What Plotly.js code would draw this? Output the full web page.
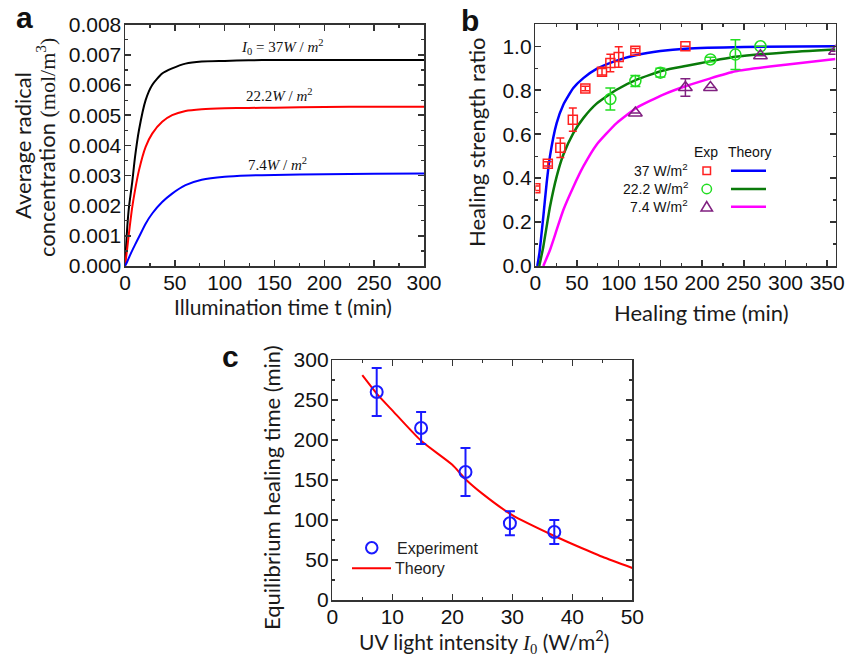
<!DOCTYPE html>
<html>
<head>
<meta charset="utf-8">
<script src="https://cdn.plot.ly/plotly-3.0.1.min.js"></script>
<style>html,body{margin:0;padding:0;background:#fff;}#chart{width:845px;height:657px;}</style>
</head>
<body>
<div id="chart"></div>
<script>
// ---------- Panel a: average radical concentration vs illumination time ----------
const tA = [0, 2.3, 4, 7.3, 10, 14, 20.7, 27.3, 37.3, 47.3, 60.7, 77, 100, 124, 150, 200, 250, 300];
const radical37 = [0, 0.0013, 0.00196, 0.0028, 0.0036, 0.0045, 0.0055, 0.0060, 0.00638, 0.00655, 0.00671, 0.00678, 0.0068, 0.00682, 0.00683, 0.00683, 0.00683, 0.00683];
const radical22 = [0, 0.0006, 0.0011, 0.00196, 0.0025, 0.00317, 0.00395, 0.00439, 0.00478, 0.005, 0.00514, 0.0052, 0.00523, 0.00524, 0.00525, 0.00527, 0.00528, 0.00528];
const radical7 = [0, 0.00015, 0.00028, 0.00052, 0.0007, 0.00096, 0.0014, 0.00174, 0.00212, 0.0024, 0.00268, 0.00286, 0.00296, 0.003, 0.00302, 0.00304, 0.00306, 0.00307];

// ---------- Panel b: healing strength ratio vs healing time ----------
const exp37T = [0, 15, 30, 45, 60, 80, 90, 100, 120, 180];
const exp37Y = [0.354, 0.465, 0.538, 0.666, 0.808, 0.884, 0.924, 0.951, 0.98, 1.0];
const exp37Err = [0.01, 0.01, 0.044, 0.053, 0.01, 0.015, 0.04, 0.047, 0.01, 0];
const exp22T = [90, 120, 150, 210, 240, 270];
const exp22Y = [0.76, 0.842, 0.88, 0.94, 0.962, 1.0];
const exp22Err = [0.05, 0.025, 0.02, 0.01, 0.068, 0];
const exp7T = [120, 180, 210, 270, 360];
const exp7Y = [0.696, 0.812, 0.812, 0.957, 0.977];
const exp7Err = [0, 0.04, 0, 0, 0];
const th37T = [2.4, 5, 9.6, 13.6, 17.6, 25.6, 33.6, 45.6, 57.6, 73.5, 97.5, 121.5, 150, 180, 250, 360];
const th37Y = [0, 0.06, 0.225, 0.377, 0.5, 0.65, 0.734, 0.81, 0.855, 0.897, 0.935, 0.96, 0.978, 0.989, 0.997, 1.0];
const th22T = [4.8, 9.6, 17.6, 25.6, 33.6, 45.6, 57.6, 73.5, 97.5, 121.5, 153.5, 180, 240, 300, 360];
const th22Y = [0, 0.088, 0.27, 0.407, 0.506, 0.605, 0.673, 0.739, 0.802, 0.848, 0.89, 0.91, 0.952, 0.972, 0.985];
const th7T = [9.6, 17.6, 25.6, 33.6, 45.6, 57.6, 73.5, 97.5, 121.5, 153.5, 180, 240, 300, 360];
const th7Y = [0, 0.073, 0.164, 0.255, 0.36, 0.453, 0.552, 0.65, 0.72, 0.78, 0.818, 0.886, 0.916, 0.942];

// ---------- Panel c: equilibrium healing time vs UV intensity ----------
const intensity = [7.4, 14.8, 22.2, 29.6, 37];
const eqTime = [260, 215, 160, 96, 85];
const eqErr = [30, 20, 30, 15, 15];
const theoryI = [5, 7.4, 10, 14.8, 20, 22.2, 25, 30, 37, 40, 45, 50];
const theoryTime = [281, 258, 237, 199, 169, 151, 133, 106, 80, 70, 54, 40];

const sans = 'Liberation Sans, Arial, sans-serif';
const serif = 'Liberation Serif, Times New Roman, serif';
const tickFont = {family: sans, size: 21, color: '#111'};
const titleFamily = 'Lato, Open Sans, sans-serif';

function axis(extra) {
  return Object.assign({
    showline: true, linecolor: '#333', linewidth: 1.5, mirror: 'allticks',
    ticks: 'inside', ticklen: 6, tickwidth: 1.5, tickcolor: '#333',
    showgrid: false, zeroline: false, tickfont: tickFont, fixedrange: true
  }, extra);
}
function minor(d) { return {dtick: d, ticks: 'inside', ticklen: 3, tickwidth: 1.2, tickcolor: '#333'}; }

const lineA = c => ({width: 2, shape: 'spline', smoothing: 0.6, color: c});

const data = [
  {x: tA, y: radical37, mode: 'lines', line: lineA('#000000'), xaxis: 'x', yaxis: 'y'},
  {x: tA, y: radical22, mode: 'lines', line: lineA('#ff0000'), xaxis: 'x', yaxis: 'y'},
  {x: tA, y: radical7, mode: 'lines', line: lineA('#0000ff'), xaxis: 'x', yaxis: 'y'},

  {x: th37T, y: th37Y, mode: 'lines', line: {width: 2.5, color: '#0000ff', shape: 'spline', smoothing: 0.5}, xaxis: 'x2', yaxis: 'y2'},
  {x: th22T, y: th22Y, mode: 'lines', line: {width: 2.5, color: '#0a7a0a', shape: 'spline', smoothing: 0.5}, xaxis: 'x2', yaxis: 'y2'},
  {x: th7T, y: th7Y, mode: 'lines', line: {width: 2.5, color: '#ff00ff', shape: 'spline', smoothing: 0.5}, xaxis: 'x2', yaxis: 'y2'},
  {x: exp37T, y: exp37Y, mode: 'markers', xaxis: 'x2', yaxis: 'y2',
   marker: {symbol: 'square-open', size: 9, color: '#ff2020', line: {width: 1.5}},
   error_y: {type: 'data', array: exp37Err, color: '#ff2020', thickness: 1.5, width: 4}},
  {x: exp22T, y: exp22Y, mode: 'markers', xaxis: 'x2', yaxis: 'y2',
   marker: {symbol: 'circle-open', size: 11, color: '#22dd22', line: {width: 1.5}},
   error_y: {type: 'data', array: exp22Err, color: '#22dd22', thickness: 1.5, width: 5}},
  {x: exp7T, y: exp7Y, mode: 'markers', xaxis: 'x2', yaxis: 'y2',
   marker: {symbol: 'triangle-up-open', size: 12, color: '#802080', line: {width: 1.5}},
   error_y: {type: 'data', array: exp7Err, color: '#802080', thickness: 1.5, width: 5}},

  {x: theoryI, y: theoryTime, mode: 'lines', name: 'Theory', xaxis: 'x3', yaxis: 'y3',
   line: {width: 2, color: '#ff0000', shape: 'spline', smoothing: 0.6}},
  {x: intensity, y: eqTime, mode: 'markers', name: 'Experiment', xaxis: 'x3', yaxis: 'y3',
   marker: {symbol: 'circle-open', size: 12, color: '#1a1aff', line: {width: 2}},
   error_y: {type: 'data', array: eqErr, color: '#1a1aff', thickness: 2, width: 5}}
];

const P = (px) => px / 845;
const Q = (py) => 1 - py / 657;

function txt(text, px, py, opts) {
  return Object.assign({text: text, xref: 'paper', yref: 'paper', x: P(px), y: Q(py),
    xanchor: 'center', yanchor: 'middle', showarrow: false,
    font: {family: sans, size: 14, color: '#111'}}, opts || {});
}
const tf = (s) => ({family: titleFamily, size: s, color: '#1a1a1a'});

const layout = {
  width: 845, height: 657,
  margin: {l: 0, r: 0, t: 0, b: 0},
  paper_bgcolor: '#ffffff', plot_bgcolor: '#ffffff',
  showlegend: false,
  xaxis: axis({domain: [P(125), P(424)], anchor: 'y', range: [0, 300], dtick: 50, minor: minor(25), ticklabelstandoff: -3}),
  yaxis: axis({domain: [Q(266), Q(24.7)], anchor: 'x', range: [0, 0.008], dtick: 0.001, tickformat: '.3f', minor: minor(0.0005), ticklabelstandoff: -2}),
  xaxis2: axis({domain: [P(535.3), P(835.5)], anchor: 'y2', range: [0, 360], dtick: 50, minor: minor(25), ticklabelstandoff: -3}),
  yaxis2: axis({domain: [Q(266), Q(24.3)], anchor: 'x2', range: [0, 1.1], dtick: 0.2, tickformat: '.1f', minor: minor(0.1), ticklabelstandoff: -2}),
  xaxis3: axis({domain: [P(332.3), P(632.3)], anchor: 'y3', range: [0, 50], dtick: 10, minor: minor(5), ticklabelstandoff: -3}),
  yaxis3: axis({domain: [Q(600), Q(360)], anchor: 'x3', range: [0, 300], dtick: 50, minor: minor(25), ticklabelstandoff: -2}),
  annotations: [
    // panel letters
    txt('<b>a</b>', 24, 17, {font: {family: sans, size: 30, color: '#111'}}),
    txt('<b>b</b>', 470, 20, {font: {family: sans, size: 30, color: '#111'}}),
    txt('<b>c</b>', 230, 356, {font: {family: sans, size: 30, color: '#111'}}),
    // axis titles
    txt('Illumination time t (min)', 283, 306, {font: tf(21)}),
    txt('Average radical', 22, 146, {font: tf(22), textangle: -90}),
    txt('concentration <span style="font-family:' + serif + '">(mol/m<sup>3</sup>)</span>', 46, 148, {font: tf(22), textangle: -90}),
    txt('Healing time (min)', 701, 312, {font: tf(22)}),
    txt('Healing strength ratio', 476, 142, {font: tf(22), textangle: -90}),
    txt('Equilibrium healing time (min)', 271, 488, {font: tf(22), textangle: -90}),
    txt('UV light intensity <span style="font-family:' + serif + '"><i>I</i><sub>0</sub></span> (W/m<sup>2</sup>)', 484, 641, {font: tf(21)}),
    // panel a curve labels
    txt('<i>I</i><sub>0</sub> = 37<i>W</i> / <i>m</i><sup>2</sup>', 282, 47, {font: {family: serif, size: 15, color: '#111'}}),
    txt('22.2<i>W</i> / <i>m</i><sup>2</sup>', 279, 95, {font: {family: serif, size: 15, color: '#111'}}),
    txt('7.4<i>W</i> / <i>m</i><sup>2</sup>', 277, 164, {font: {family: serif, size: 15, color: '#111'}}),
    // panel b legend
    txt('Exp', 706, 152),
    txt('Theory', 750, 152),
    txt('37 W/m<sup>2</sup>', 690, 170, {xanchor: 'right'}),
    txt('22.2 W/m<sup>2</sup>', 690, 188, {xanchor: 'right'}),
    txt('7.4 W/m<sup>2</sup>', 690, 206, {xanchor: 'right'}),
    // panel c legend
    txt('Experiment', 395, 548, {xanchor: 'left', font: {family: sans, size: 16, color: '#222'}}),
    txt('Theory', 393, 568, {xanchor: 'left', font: {family: sans, size: 16, color: '#222'}})
  ],
  shapes: [
    {type: 'rect', xref: 'paper', yref: 'paper', x0: P(703), x1: P(710.5), y0: Q(174.5), y1: Q(167), line: {color: '#ff2020', width: 1.5}},
    {type: 'circle', xref: 'paper', yref: 'paper', x0: P(702), x1: P(711.5), y0: Q(193.7), y1: Q(184.3), line: {color: '#22dd22', width: 1.5}},
    {type: 'path', xref: 'paper', yref: 'paper', path: 'M ' + P(701) + ' ' + Q(211) + ' L ' + P(712.5) + ' ' + Q(211) + ' L ' + P(706.7) + ' ' + Q(201.5) + ' Z', line: {color: '#802080', width: 1.5}},
    {type: 'line', xref: 'paper', yref: 'paper', x0: P(731), x1: P(766), y0: Q(170.7), y1: Q(170.7), line: {color: '#0000ff', width: 2.5}},
    {type: 'line', xref: 'paper', yref: 'paper', x0: P(731), x1: P(766), y0: Q(189), y1: Q(189), line: {color: '#0a7a0a', width: 2.5}},
    {type: 'line', xref: 'paper', yref: 'paper', x0: P(731), x1: P(766), y0: Q(206.7), y1: Q(206.7), line: {color: '#ff00ff', width: 2.5}},
    {type: 'circle', xref: 'paper', yref: 'paper', x0: P(366), x1: P(377.5), y0: Q(553.5), y1: Q(542), line: {color: '#1a1aff', width: 2}},
    {type: 'line', xref: 'paper', yref: 'paper', x0: P(352), x1: P(391), y0: Q(568.3), y1: Q(568.3), line: {color: '#ff0000', width: 2}}
  ]
};

Plotly.newPlot('chart', data, layout, {staticPlot: true, displayModeBar: false});
</script>
</body>
</html>
